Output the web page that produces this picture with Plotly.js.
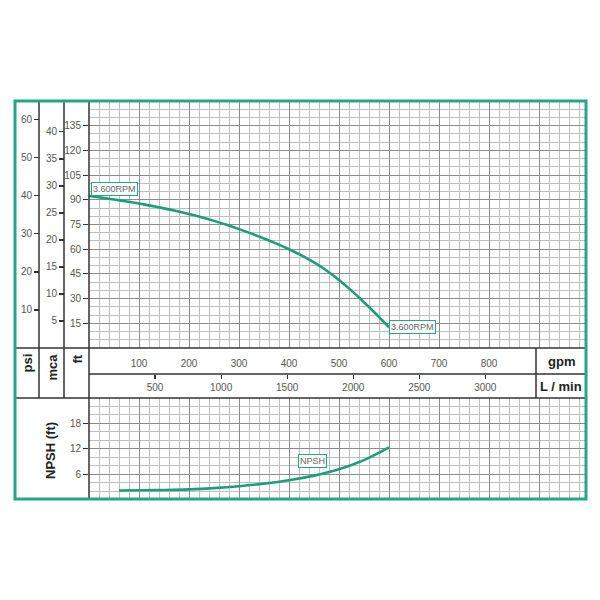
<!DOCTYPE html>
<html>
<head>
<meta charset="utf-8">
<script src="https://cdn.plot.ly/plotly-3.0.1.min.js"></script>
<style>html,body{margin:0;padding:0;background:#fff;}#chart{width:600px;height:600px;}</style>
</head>
<body>
<div id="chart"></div>
<script>
// ---- data ----
const headFlowGpm = [0, 25, 50, 75, 100, 125, 150, 175, 200, 225, 250, 275, 300,
                     325, 350, 375, 400, 425, 450, 475, 500, 525, 550, 575, 600];
const headFt      = [92.3, 91.3, 90.2, 89.0, 87.7, 86.3, 84.8, 83.2, 81.4, 79.4, 77.2, 74.8, 72.2,
                     69.45, 66.5, 63.35, 59.95, 56.2, 51.95, 47.05, 41.35, 34.85, 27.75, 20.35, 12.6];
const npshFlowGpm = [60, 100, 150, 200, 250, 300, 350, 400, 450, 500, 550, 600];
const npshFt      = [2.12, 2.17, 2.25, 2.4, 2.7, 3.15, 3.75, 4.55, 5.65, 7.15, 9.3, 12.3];

const gpmTicks  = [100, 200, 300, 400, 500, 600, 700, 800, 900];
const gpmLabels = ['100', '200', '300', '400', '500', '600', '700', '800', ''];
const lminTicks = [500, 1000, 1500, 2000, 2500, 3000];
const ftTicks   = [15, 30, 45, 60, 75, 90, 105, 120, 135];
const psiTicks  = [10, 20, 30, 40, 50, 60];
const mcaTicks  = [5, 10, 15, 20, 25, 30, 35, 40];
const npshTicks = [6, 12, 18];
const curveLabel = '3.600RPM';

// unit conversions
const FT_PER_PSI = 2.31, FT_PER_M = 3.281, LMIN_PER_GPM = 3.785;
const GPM_MAX = 994, FT_MAX = 150, NPSH_MAX = 24;

// ---- layout helpers (pixel -> paper) ----
const W = 600, H = 600;
const px = x => x / W;
const py = y => 1 - y / H;

const green = '#22a882';
const curveGreen = '#1c9e7a';
const dark = '#333333';
const gridMajor = '#8c8c8c';
const gridMinor = '#bfbfbf';
const tickFont = {family: 'Liberation Sans, Arial, sans-serif', size: 10, color: '#555'};

const curveLine = {color: curveGreen, width: 2.6, shape: 'spline', smoothing: 1.0};
const hidden = {color: 'rgba(0,0,0,0)', width: 0};

const traces = [
  // same head curve expressed in the secondary units, invisible: these only bind the psi / mca / L/min axes
  {x: headFlowGpm, y: headFt.map(v => v / FT_PER_PSI), xaxis: 'x', yaxis: 'y2', mode: 'lines', line: hidden, hoverinfo: 'skip'},
  {x: headFlowGpm, y: headFt.map(v => v / FT_PER_M), xaxis: 'x', yaxis: 'y3', mode: 'lines', line: hidden, hoverinfo: 'skip'},
  {x: headFlowGpm.map(g => g * LMIN_PER_GPM), y: headFt, xaxis: 'x2', yaxis: 'y', mode: 'lines', line: hidden, hoverinfo: 'skip'},
  // visible curves
  {x: headFlowGpm, y: headFt, xaxis: 'x', yaxis: 'y', mode: 'lines', line: curveLine, hoverinfo: 'skip'},
  {x: npshFlowGpm, y: npshFt, xaxis: 'x3', yaxis: 'y4', mode: 'lines', line: curveLine, hoverinfo: 'skip'}
];

function hline(y, x0, x1, w) {
  return {type: 'line', xref: 'paper', yref: 'paper', x0: px(x0), x1: px(x1), y0: py(y), y1: py(y),
          line: {color: dark, width: w || 1.5}};
}
function vline(x, y0, y1, w) {
  return {type: 'line', xref: 'paper', yref: 'paper', x0: px(x), x1: px(x), y0: py(y0), y1: py(y1),
          line: {color: dark, width: w || 1.5}};
}

const boldFont = {family: 'Liberation Sans, Arial, sans-serif', size: 13, color: '#222', weight: 'bold'};
const boxFont = {family: 'Liberation Sans, Arial, sans-serif', size: 9, color: '#666'};

const layout = {
  width: 600, height: 600,
  margin: {l: 0, r: 0, t: 0, b: 0},
  paper_bgcolor: '#fff', plot_bgcolor: '#fff',
  showlegend: false,
  font: tickFont,
  xaxis: {
    domain: [px(89), px(586)], range: [0, GPM_MAX], anchor: 'y',
    tickmode: 'array', tickvals: gpmTicks, ticktext: gpmLabels,
    ticks: 'outside', ticklen: 6, tickcolor: 'rgba(0,0,0,0)',
    showgrid: true, gridcolor: gridMajor, gridwidth: 1,
    minor: {tickmode: 'linear', tick0: 0, dtick: 20, showgrid: true, gridcolor: gridMinor, gridwidth: 1, ticks: ''},
    zeroline: false, showline: false, tickfont: tickFont
  },
  xaxis2: {
    overlaying: 'x', anchor: 'free', position: py(374), side: 'bottom',
    range: [0, GPM_MAX * LMIN_PER_GPM],
    tickmode: 'array', tickvals: lminTicks,
    ticks: 'outside', ticklen: 4, tickcolor: dark, tickwidth: 1.2,
    showgrid: false, zeroline: false, showline: false, tickfont: tickFont
  },
  yaxis: {
    domain: [py(348), py(101)], range: [0, FT_MAX], anchor: 'x',
    tickmode: 'array', tickvals: ftTicks,
    ticks: 'outside', ticklen: 5, tickcolor: dark, tickwidth: 1.2,
    showgrid: true, gridcolor: gridMajor, gridwidth: 1,
    minor: {tickmode: 'linear', tick0: 0, dtick: 5, showgrid: true, gridcolor: gridMinor, gridwidth: 1, ticks: ''},
    zeroline: false, showline: false, tickfont: tickFont
  },
  yaxis2: {
    overlaying: 'y', anchor: 'free', position: px(39), side: 'left',
    range: [0, FT_MAX / FT_PER_PSI],
    tickmode: 'array', tickvals: psiTicks,
    ticks: 'outside', ticklen: 5, tickcolor: dark, tickwidth: 1.2,
    showgrid: false, zeroline: false, showline: false, tickfont: tickFont
  },
  yaxis3: {
    overlaying: 'y', anchor: 'free', position: px(64), side: 'left',
    range: [0, FT_MAX / FT_PER_M],
    tickmode: 'array', tickvals: mcaTicks,
    ticks: 'outside', ticklen: 5, tickcolor: dark, tickwidth: 1.2,
    showgrid: false, zeroline: false, showline: false, tickfont: tickFont
  },
  xaxis3: {
    domain: [px(89), px(586)], range: [0, GPM_MAX], anchor: 'y4',
    tickmode: 'array', tickvals: gpmTicks, showticklabels: false, ticks: '',
    showgrid: true, gridcolor: gridMajor, gridwidth: 1,
    minor: {tickmode: 'linear', tick0: 0, dtick: 20, showgrid: true, gridcolor: gridMinor, gridwidth: 1, ticks: ''},
    zeroline: false, showline: false
  },
  yaxis4: {
    domain: [py(499.5), py(398)], range: [0, NPSH_MAX], anchor: 'x3',
    tickmode: 'array', tickvals: npshTicks,
    ticks: 'outside', ticklen: 5, tickcolor: dark, tickwidth: 1.2,
    showgrid: true, gridcolor: gridMajor, gridwidth: 1,
    minor: {tickmode: 'linear', tick0: 0, dtick: 2, showgrid: true, gridcolor: gridMinor, gridwidth: 1, ticks: ''},
    zeroline: false, showline: false, tickfont: tickFont
  },
  shapes: [
    vline(39, 101, 398), vline(64, 101, 398), vline(89, 101, 499),
    hline(348, 15, 586), hline(374, 89, 586), hline(398, 15, 586),
    vline(536, 348, 398),
    {type: 'rect', xref: 'paper', yref: 'paper', x0: px(15), x1: px(586), y0: py(499), y1: py(101),
     line: {color: green, width: 3}}
  ],
  annotations: [
    {xref: 'x', yref: 'y', x: 51, y: 96.3, text: curveLabel, showarrow: false,
     font: boxFont, bgcolor: '#fff', bordercolor: green, borderwidth: 1, borderpad: 1},
    {xref: 'x', yref: 'y', x: 646, y: 12.8, text: curveLabel, showarrow: false,
     font: boxFont, bgcolor: '#fff', bordercolor: green, borderwidth: 1, borderpad: 1},
    {xref: 'x3', yref: 'y4', x: 446, y: 9.2, text: 'NPSH', showarrow: false,
     font: boxFont, bgcolor: '#fff', bordercolor: green, borderwidth: 1, borderpad: 1},
    {xref: 'paper', yref: 'paper', x: px(27), y: py(352), xanchor: 'center', yanchor: 'top',
     text: 'psi', textangle: -90, showarrow: false, font: boldFont},
    {xref: 'paper', yref: 'paper', x: px(52), y: py(352), xanchor: 'center', yanchor: 'top',
     text: 'mca', textangle: -90, showarrow: false, font: boldFont},
    {xref: 'paper', yref: 'paper', x: px(77), y: py(353), xanchor: 'center', yanchor: 'top',
     text: 'ft', textangle: -90, showarrow: false, font: boldFont},
    {xref: 'paper', yref: 'paper', x: px(561), y: py(361), xanchor: 'center', yanchor: 'middle',
     text: 'gpm', showarrow: false, font: boldFont},
    {xref: 'paper', yref: 'paper', x: px(561), y: py(386), xanchor: 'center', yanchor: 'middle',
     text: 'L / min', showarrow: false, font: boldFont},
    {xref: 'paper', yref: 'paper', x: px(50), y: py(451), xanchor: 'center', yanchor: 'middle',
     text: 'NPSH (ft)', textangle: -90, showarrow: false, font: boldFont}
  ]
};

Plotly.newPlot('chart', traces, layout, {staticPlot: true, displayModeBar: false});
</script>
</body>
</html>
